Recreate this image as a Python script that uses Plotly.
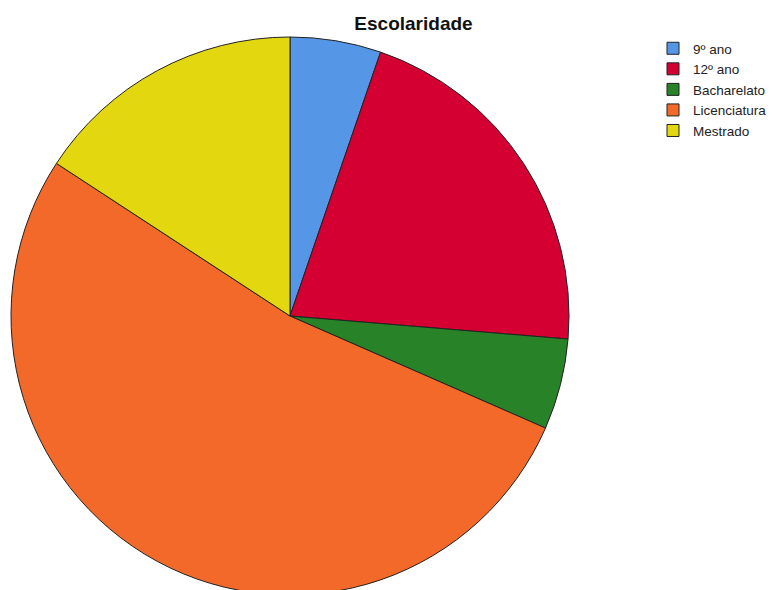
import plotly.graph_objects as go

categories = ["9º ano", "12º ano", "Bacharelato", "Licenciatura", "Mestrado"]
counts = [3, 12, 3, 30, 9]
colors = ["#5696E6", "#D50032", "#288228", "#F3692A", "#E3D810"]

W, H = 780, 590
# page has an 8px body offset; positions below are in figure pixels
cx, r = 282, 279
top = 29

fig = go.Figure(go.Pie(
    labels=categories,
    values=counts,
    sort=False,
    direction="clockwise",
    rotation=0,
    textinfo="none",
    marker=dict(colors=colors, line=dict(color="#222222", width=1)),
    domain=dict(x=[(cx - r) / W, (cx + r) / W],
                y=[(H - top - 2 * r) / H, (H - top) / H]),
))

fig.update_layout(
    width=W, height=H,
    margin=dict(l=0, r=0, t=0, b=0),
    paper_bgcolor="white",
    plot_bgcolor="white",
    font=dict(family="Liberation Sans, Arial, sans-serif", size=13.5, color="#222222"),
    title=dict(text="<b>Escolaridade</b>", x=405.5 / W, xanchor="center",
               y=1 - 15 / H, yanchor="middle",
               font=dict(size=19, color="#111111")),
    legend=dict(x=645 / W, xanchor="left", y=1 - 25 / H, yanchor="top",
                font=dict(size=13.5), itemwidth=30, tracegroupgap=0,
                bgcolor="rgba(0,0,0,0)"),
    showlegend=True,
)

fig.write_html("out.html")
